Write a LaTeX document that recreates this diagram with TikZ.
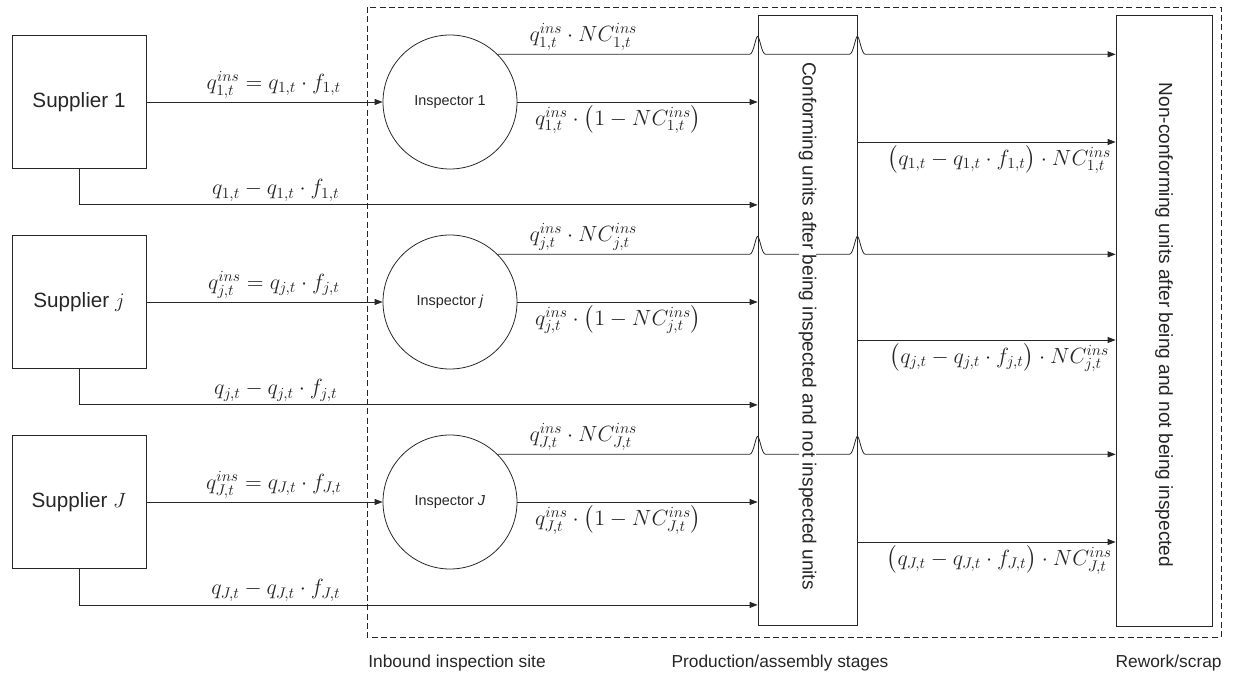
\RequirePackage{fix-cm}
\documentclass[tikz,border=0pt]{standalone}
\usepackage{amsmath}
\usepackage[no-math]{fontspec}
\setmainfont{Liberation Sans}
\usetikzlibrary{arrows.meta, calc, positioning}

\tikzset{
    flow/.style={-{Triangle[length=6pt, width=4.5pt]}},
    supbox/.style={draw, minimum width=100.5pt, minimum height=99.75pt, inner sep=0pt, font=\fontsize{15.5}{18}\selectfont},
    inspnode/.style={draw, circle, minimum size=100.5pt, inner sep=0pt, font=\fontsize{10.8}{13}\selectfont},
    stagebox/.style={draw, inner sep=0pt},
    vtext/.style={rotate=-90, fill=white, inner sep=0pt, font=\fontsize{14.3}{17}\selectfont},
    lbl/.style={font=\fontsize{16.5}{19}\selectfont, inner sep=2.5pt},
    sitelbl/.style={font=\fontsize{13}{15}\selectfont}
}
% hop over a vertical line
\newcommand{\hopover}{.. controls +(4,0) and +(-2,0) .. ++(8,-18) .. controls +(2,0) and +(-4,0) .. ++(8,18)}

\begin{document}
\begin{tikzpicture}[x=0.75pt, y=-0.75pt, line width=0.6pt, color=black!85]
    \useasboundingbox (0,0) rectangle (1234,680);

    % Site frame
    \draw[dashed, dash pattern=on 4.5pt off 2.5pt] (367,7) rectangle (1221,637);

    % Suppliers
    \node[supbox] (sup1) at (79,102) {Supplier 1};
    \node[supbox] (supj) at (79,302) {Supplier $j$};
    \node[supbox] (supJ) at (79,502) {Supplier $J$};

    % Inspectors
    \node[inspnode] (ins1) at (450,102) {Inspector 1};
    \node[inspnode] (insj) at (450,302) {Inspector \textit{j}};
    \node[inspnode] (insJ) at (450,502) {Inspector \textit{J}};

    % Stages
    \node[stagebox, minimum width=74.25pt, minimum height=457.5pt] (conf) at (807.5,320) {};
    \node[stagebox, minimum width=72pt, minimum height=458pt] (ncf) at (1164,321) {};

    % Row 1
    \coordinate (b1) at ($(sup1.south)+(0,36)$);
    \coordinate (r1) at ($(ins1.center)+(0,40)$);
    \coordinate (h1a) at (ins1.north east -| conf.west);
    \coordinate (h1b) at (ins1.north east -| conf.east);
    \draw[flow] (sup1) -- node[lbl, above, xshift=7pt] {$q_{1,t}^{ins}=q_{1,t}\cdot f_{1,t}$} (ins1);
    \draw[flow] (sup1.south) -- (b1) -- node[lbl, above, pos=0.29] {$q_{1,t}-q_{1,t}\cdot f_{1,t}$} (b1 -| conf.west);
    \draw[flow] (ins1) -- node[lbl, below, pos=0.42] {$q_{1,t}^{ins}\cdot\bigl(1-NC_{1,t}^{ins}\bigr)$} (ins1 -| conf.west);
    \draw[flow] (ins1.north east) -- node[lbl, above, pos=0.34] {$q_{1,t}^{ins}\cdot NC_{1,t}^{ins}$} ([xshift=-6pt]h1a) \hopover -- ([xshift=-6pt]h1b) \hopover -- (h1b -| ncf.west);
    \draw[flow] (r1 -| conf.east) -- node[lbl, below, pos=0.55] {$\bigl(q_{1,t}-q_{1,t}\cdot f_{1,t}\bigr)\cdot NC_{1,t}^{ins}$} (r1 -| ncf.west);

    % Row j
    \coordinate (bj) at ($(supj.south)+(0,36)$);
    \coordinate (rj) at ($(insj.center)+(0,38)$);
    \coordinate (hja) at (insj.north east -| conf.west);
    \coordinate (hjb) at (insj.north east -| conf.east);
    \draw[flow] (supj) -- node[lbl, above, xshift=7pt] {$q_{j,t}^{ins}=q_{j,t}\cdot f_{j,t}$} (insj);
    \draw[flow] (supj.south) -- (bj) -- node[lbl, above, pos=0.29] {$q_{j,t}-q_{j,t}\cdot f_{j,t}$} (bj -| conf.west);
    \draw[flow] (insj) -- node[lbl, below, pos=0.42] {$q_{j,t}^{ins}\cdot\bigl(1-NC_{j,t}^{ins}\bigr)$} (insj -| conf.west);
    \draw[flow] (insj.north east) -- node[lbl, above, pos=0.34] {$q_{j,t}^{ins}\cdot NC_{j,t}^{ins}$} ([xshift=-6pt]hja) \hopover -- ([xshift=-6pt]hjb) \hopover -- (hjb -| ncf.west);
    \draw[flow] (rj -| conf.east) -- node[lbl, below, pos=0.55] {$\bigl(q_{j,t}-q_{j,t}\cdot f_{j,t}\bigr)\cdot NC_{j,t}^{ins}$} (rj -| ncf.west);

    % Row J
    \coordinate (bJ) at ($(supJ.south)+(0,36)$);
    \coordinate (rJ) at ($(insJ.center)+(0,40)$);
    \coordinate (hJa) at (insJ.north east -| conf.west);
    \coordinate (hJb) at (insJ.north east -| conf.east);
    \draw[flow] (supJ) -- node[lbl, above, xshift=7pt] {$q_{J,t}^{ins}=q_{J,t}\cdot f_{J,t}$} (insJ);
    \draw[flow] (supJ.south) -- (bJ) -- node[lbl, above, pos=0.29] {$q_{J,t}-q_{J,t}\cdot f_{J,t}$} (bJ -| conf.west);
    \draw[flow] (insJ) -- node[lbl, below, pos=0.42] {$q_{J,t}^{ins}\cdot\bigl(1-NC_{J,t}^{ins}\bigr)$} (insJ -| conf.west);
    \draw[flow] (insJ.north east) -- node[lbl, above, pos=0.34] {$q_{J,t}^{ins}\cdot NC_{J,t}^{ins}$} ([xshift=-6pt]hJa) \hopover -- ([xshift=-6pt]hJb) \hopover -- (hJb -| ncf.west);
    \draw[flow] (rJ -| conf.east) -- node[lbl, below, pos=0.55] {$\bigl(q_{J,t}-q_{J,t}\cdot f_{J,t}\bigr)\cdot NC_{J,t}^{ins}$} (rJ -| ncf.west);

    % Stage texts
    \node[vtext] (conftxt) at ($(conf.center)+(0,6)$) {Conforming units after being inspected and not inspected units};
    \node[vtext] (ncftxt) at ($(ncf.center)+(0,4)$) {Non-conforming units after being and not being inspected};

    % Site labels
    \node[sitelbl, anchor=west, inner sep=0pt] (sitein) at (368,663) {Inbound inspection site};
    \node[sitelbl, inner sep=0pt] (siteprod) at (780,663) {Production/assembly stages};
    \node[sitelbl, anchor=east, inner sep=0pt] (siterw) at (1222,663) {Rework/scrap};
\end{tikzpicture}
\end{document}
